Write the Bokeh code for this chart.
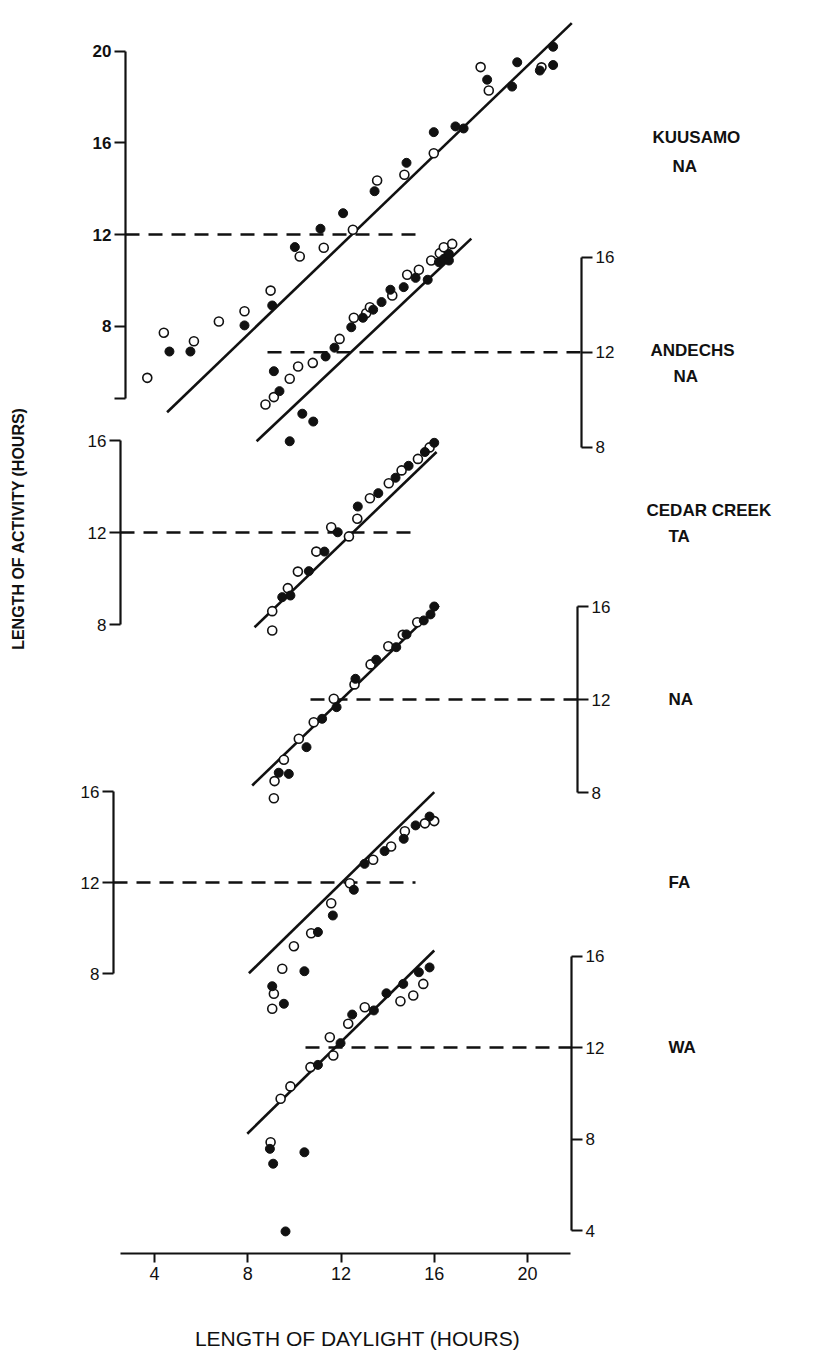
import math
from bokeh.plotting import figure
from bokeh.models import Range1d, LinearAxis, FixedTicker, Label
from bokeh.embed import file_html
from bokeh.resources import INLINE

# ---------------------------------------------------------------
# Length of activity (h) against length of daylight (h)
# filled / open circles = two series per population, solid = fit
# ---------------------------------------------------------------

# Kuusamo, NA
KUU_FILLED_X = [4.64, 5.54, 7.86, 9.05, 10.02, 11.12, 12.09, 13.44, 14.81, 15.98, 16.91, 17.26,
                18.27, 19.34, 19.56, 20.53, 21.10, 21.10]
KUU_FILLED_Y = [6.89, 6.89, 8.03, 8.90, 11.45, 12.25, 12.93, 13.89, 15.13, 16.47, 16.72, 16.63,
                18.76, 18.46, 19.52, 19.16, 20.20, 19.40]
KUU_OPEN_X = [3.69, 4.40, 5.69, 6.76, 7.86, 8.98, 10.23, 11.26, 12.51, 13.55, 14.72, 15.98,
              17.99, 18.34, 20.60]
KUU_OPEN_Y = [5.74, 7.71, 7.34, 8.20, 8.65, 9.55, 11.04, 11.42, 12.21, 14.36, 14.61, 15.55,
              19.31, 18.29, 19.30]
KUU_FIT_X = [4.54, 21.90]
KUU_FIT_Y = [4.24, 21.23]

# Andechs, NA
AND_FILLED_X = [9.12, 9.36, 11.34, 11.72, 12.44, 12.94, 13.38, 13.74, 14.12, 14.69, 15.20, 15.72,
                16.20, 16.41, 16.63, 16.63, 10.34, 10.81, 9.80]
AND_FILLED_Y = [11.20, 10.36, 11.82, 12.19, 13.05, 13.45, 13.79, 14.11, 14.63, 14.74, 15.13, 15.05,
                15.79, 15.93, 15.86, 16.14, 9.41, 9.08, 8.25]
AND_OPEN_X = [8.76, 9.12, 9.80, 10.16, 10.79, 11.94, 12.55, 13.08, 13.24, 14.20, 14.84, 15.34,
              15.87, 16.24, 16.41, 16.77]
AND_OPEN_Y = [9.80, 10.11, 10.88, 11.40, 11.55, 12.56, 13.45, 13.64, 13.89, 14.39, 15.26, 15.47,
              15.86, 16.17, 16.42, 16.56]
AND_FIT_X = [8.38, 17.59]
AND_FIT_Y = [8.25, 16.78]

# Cedar Creek, TA
CTA_FILLED_X = [9.48, 9.83, 10.62, 11.29, 11.86, 12.72, 13.60, 14.34, 14.90, 15.60, 16.00]
CTA_FILLED_Y = [9.19, 9.26, 10.32, 11.17, 12.01, 13.13, 13.71, 14.38, 14.90, 15.50, 15.90]
CTA_OPEN_X = [9.05, 9.05, 9.72, 10.15, 10.94, 11.58, 12.34, 12.70, 13.24, 14.05, 14.60, 15.30, 15.80]
CTA_OPEN_Y = [7.74, 8.58, 9.58, 10.30, 11.17, 12.23, 11.83, 12.60, 13.49, 14.14, 14.70, 15.20, 15.70]
CTA_FIT_X = [8.29, 16.10]
CTA_FIT_Y = [7.88, 15.50]

# Cedar Creek, NA
CNA_FILLED_X = [9.33, 9.76, 10.52, 11.19, 11.81, 12.62, 13.51, 14.37, 14.81, 15.55, 15.84, 16.00]
CNA_FILLED_Y = [8.85, 8.80, 9.95, 11.17, 11.67, 12.89, 13.71, 14.25, 14.80, 15.40, 15.66, 16.00]
CNA_OPEN_X = [9.12, 9.15, 9.55, 10.19, 10.83, 11.69, 12.58, 13.27, 14.03, 14.65, 15.27]
CNA_OPEN_Y = [7.75, 8.49, 9.41, 10.31, 11.02, 12.03, 12.65, 13.51, 14.29, 14.78, 15.32]
CNA_FIT_X = [8.19, 16.20]
CNA_FIT_Y = [8.30, 16.04]

# Cedar Creek, FA
CFA_FILLED_X = [9.55, 9.05, 10.43, 11.01, 11.65, 12.55, 13.01, 13.87, 14.69, 15.20, 15.80]
CFA_FILLED_Y = [6.67, 7.44, 8.10, 9.82, 10.55, 11.68, 12.82, 13.38, 13.92, 14.51, 14.90]
CFA_OPEN_X = [9.05, 9.12, 9.48, 9.98, 10.72, 11.58, 12.38, 13.38, 14.15, 14.74, 15.60, 16.00]
CFA_OPEN_Y = [6.45, 7.11, 8.21, 9.20, 9.77, 11.09, 11.97, 13.00, 13.58, 14.25, 14.60, 14.70]
CFA_FIT_X = [8.05, 16.00]
CFA_FIT_Y = [8.01, 15.97]

# Cedar Creek, WA
CWA_FILLED_X = [11.01, 11.98, 12.48, 13.41, 13.95, 14.67, 15.34, 8.95, 9.09, 10.43, 9.62, 15.80]
CWA_FILLED_Y = [11.24, 12.19, 13.44, 13.62, 14.37, 14.78, 15.29, 7.57, 6.92, 7.42, 3.96, 15.50]
CWA_OPEN_X = [9.41, 9.83, 10.69, 11.52, 11.67, 12.31, 13.02, 14.55, 15.10, 15.53, 8.98]
CWA_OPEN_Y = [9.76, 10.30, 11.14, 12.45, 11.65, 13.04, 13.76, 14.02, 14.27, 14.78, 7.86]
CWA_FIT_X = [7.98, 16.00]
CWA_FIT_Y = [8.23, 16.24]

X_TICKS = [4, 8, 12, 16, 20]

# ---------------------------------------------------------------
# page geometry
# ---------------------------------------------------------------
PAGE_W, PAGE_H = 816, 1360
X_PX_PER_H = 23.31
X_PX_AT_12 = 340.5


def hx(px):
    """page pixel column -> hours of daylight"""
    return 12 + (px - X_PX_AT_12) / X_PX_PER_H


FONT = "Liberation Sans"

PANELS = [
    dict(key="kuu", fx=KUU_FILLED_X, fy=KUU_FILLED_Y, ox=KUU_OPEN_X, oy=KUU_OPEN_Y,
         lx=KUU_FIT_X, ly=KUU_FIT_Y, y12=234.0, scale=22.9, side="left", axis_px=125,
         bounds=(4.84, 20), ticks=[8, 12, 16, 20], ref=(125, 417), bold=True),
    dict(key="and", fx=AND_FILLED_X, fy=AND_FILLED_Y, ox=AND_OPEN_X, oy=AND_OPEN_Y,
         lx=AND_FIT_X, ly=AND_FIT_Y, y12=351.7, scale=23.75, side="right", axis_px=581,
         bounds=(8, 16), ticks=[8, 12, 16], ref=(267, 581), bold=False),
    dict(key="cta", fx=CTA_FILLED_X, fy=CTA_FILLED_Y, ox=CTA_OPEN_X, oy=CTA_OPEN_Y,
         lx=CTA_FIT_X, ly=CTA_FIT_Y, y12=532.0, scale=23.0, side="left", axis_px=120,
         bounds=(8, 16), ticks=[8, 12, 16], ref=(120, 415), bold=False),
    dict(key="cna", fx=CNA_FILLED_X, fy=CNA_FILLED_Y, ox=CNA_OPEN_X, oy=CNA_OPEN_Y,
         lx=CNA_FIT_X, ly=CNA_FIT_Y, y12=699.0, scale=23.25, side="right", axis_px=577,
         bounds=(8, 16), ticks=[8, 12, 16], ref=(310, 577), bold=False),
    dict(key="cfa", fx=CFA_FILLED_X, fy=CFA_FILLED_Y, ox=CFA_OPEN_X, oy=CFA_OPEN_Y,
         lx=CFA_FIT_X, ly=CFA_FIT_Y, y12=882.0, scale=22.75, side="left", axis_px=113,
         bounds=(8, 16), ticks=[8, 12, 16], ref=(113, 415), bold=False),
    dict(key="cwa", fx=CWA_FILLED_X, fy=CWA_FILLED_Y, ox=CWA_OPEN_X, oy=CWA_OPEN_Y,
         lx=CWA_FIT_X, ly=CWA_FIT_Y, y12=1047.0, scale=22.875, side="right", axis_px=571,
         bounds=(4, 16), ticks=[4, 8, 12, 16], ref=(305, 571), bold=False),
]

p = figure(width=PAGE_W, height=PAGE_H, output_backend="svg", toolbar_location=None,
           x_range=Range1d(hx(0), hx(PAGE_W)), y_range=Range1d(PAGE_H, 0),
           x_axis_location=None, y_axis_location=None, min_border=0,
           outline_line_color=None, background_fill_color="white",
           border_fill_color="white")
p.grid.visible = False

extra = {}
for P in PANELS:
    extra[P["key"]] = Range1d(start=12 - (PAGE_H - P["y12"]) / P["scale"],
                              end=12 + P["y12"] / P["scale"])
p.extra_y_ranges = extra
p.extra_x_ranges = {"page": Range1d(0, PAGE_W)}

INK = "#111111"

for P in PANELS:
    k = P["key"]
    # reference line at 12 h of activity
    p.line([hx(P["ref"][0]), hx(P["ref"][1])], [12, 12], y_range_name=k,
           line_color=INK, line_width=2.4, line_dash="14 9")
    # fitted line
    p.line(P["lx"], P["ly"], y_range_name=k, line_color=INK, line_width=2.6)
    # observations
    p.scatter(P["ox"], P["oy"], y_range_name=k, marker="circle", size=9,
              fill_color="white", line_color=INK, line_width=1.6)
    p.scatter(P["fx"], P["fy"], y_range_name=k, marker="circle", size=9,
              fill_color=INK, line_color=INK)

    ax = LinearAxis(y_range_name=k, fixed_location=hx(P["axis_px"]), bounds=P["bounds"],
                    ticker=FixedTicker(ticks=P["ticks"], minor_ticks=[]),
                    major_tick_in=0, major_tick_out=11, minor_tick_in=0, minor_tick_out=0,
                    axis_line_width=2.2, axis_line_color=INK,
                    major_tick_line_width=2.2, major_tick_line_color=INK,
                    major_label_text_font=FONT, major_label_text_font_size="17px",
                    major_label_text_color=INK, major_label_standoff=3,
                    major_label_text_font_style="bold" if P["bold"] else "normal")
    p.add_layout(ax, P["side"])

# closing hook at the foot of the Kuusamo scale
hook = LinearAxis(y_range_name="kuu", fixed_location=hx(125), bounds=(4.84, 20),
                  ticker=FixedTicker(ticks=[4.84], minor_ticks=[]),
                  major_tick_in=0, major_tick_out=11, minor_tick_in=0, minor_tick_out=0,
                  axis_line_color=None, major_tick_line_width=2.2,
                  major_tick_line_color=INK, major_label_text_color=None)
p.add_layout(hook, "left")

# daylight axis
xax = LinearAxis(fixed_location=1253, bounds=(hx(120), hx(570)),
                 ticker=FixedTicker(ticks=X_TICKS, minor_ticks=[]),
                 major_tick_in=0, major_tick_out=9, minor_tick_in=0, minor_tick_out=0,
                 axis_line_width=2.2, axis_line_color=INK,
                 major_tick_line_width=2.0, major_tick_line_color=INK,
                 major_label_text_font=FONT, major_label_text_font_size="18px",
                 major_label_text_color=INK, major_label_standoff=4)
p.add_layout(xax, "below")

# axis titles
p.add_layout(Label(x=357, y=1338, x_range_name="page", text="LENGTH OF DAYLIGHT (HOURS)",
                   text_font=FONT, text_font_size="21px", text_color=INK,
                   text_align="center", text_baseline="middle"))
p.add_layout(Label(x=18, y=528, x_range_name="page", text="LENGTH OF ACTIVITY (HOURS)",
                   angle=math.pi / 2, text_font=FONT, text_font_size="16px",
                   text_font_style="bold", text_color=INK,
                   text_align="center", text_baseline="middle"))

# population / group names
NAMES = [("KUUSAMO", 652, 137), ("NA", 672, 166),
         ("ANDECHS", 650, 350), ("NA", 673, 376),
         ("CEDAR CREEK", 646, 510), ("TA", 668, 536),
         ("NA", 668, 699), ("FA", 668, 882), ("WA", 668, 1047)]
for txt, x, y in NAMES:
    p.add_layout(Label(x=x, y=y, x_range_name="page", text=txt, text_font=FONT,
                       text_font_size="17px", text_font_style="bold", text_color=INK,
                       text_align="left", text_baseline="middle"))

open("out.html", "w").write(file_html(p, INLINE))
